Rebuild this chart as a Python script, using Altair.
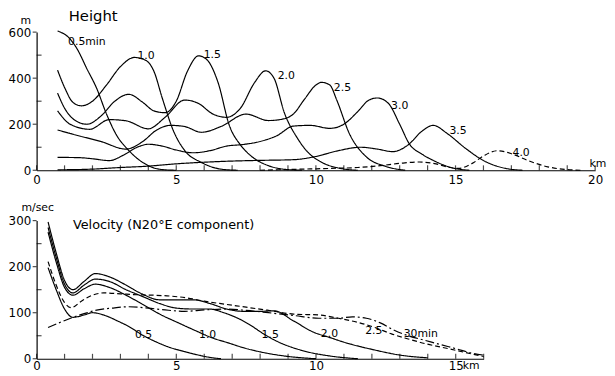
import altair as alt
import pandas as pd

# ---------------- Height panel (x in km, height in m) ----------------
H05_X = [0.75, 1.2, 1.45, 1.8, 2.15, 2.5, 2.85, 3.3, 3.8, 4.2, 4.6, 5.0]
H05_Y = [605, 570, 527, 441, 356, 245, 155, 86, 34, 10, 2, 0]

H10_X = [0.75, 1.0, 1.3, 1.6, 2.0, 2.5, 3.0, 3.5, 3.9, 4.2, 4.5, 4.9, 5.3, 5.9, 6.6, 7.2]
H10_Y = [435, 360, 295, 280, 300, 370, 450, 490, 478, 430, 313, 171, 86, 34, 5, 0]

H15_X = [0.75, 1.0, 1.4, 1.8, 2.3, 2.8, 3.3, 3.8, 4.2, 4.6, 5.0, 5.4, 5.8, 6.1, 6.5, 6.9, 7.3, 7.7, 8.3, 8.9, 9.5]
H15_Y = [335, 270, 215, 200, 235, 300, 330, 295, 258, 250, 300, 430, 497, 480, 380, 195, 110, 60, 20, 4, 0]

H20_X = [0.75, 1.2, 1.9, 2.6, 3.2, 4.0, 4.6, 5.3, 5.8, 6.3, 6.8, 7.3, 7.8, 8.2, 8.5, 8.87, 9.33, 9.7, 10.2, 10.8, 11.5]
H20_Y = [258, 200, 178, 220, 215, 180, 230, 305, 290, 245, 230, 270, 380, 432, 400, 250, 141, 80, 35, 10, 0]

H25_X = [0.75, 1.5, 2.3, 3.2, 3.8, 4.3, 4.8, 5.3, 5.9, 6.6, 7.5, 8.3, 8.8, 9.2, 9.6, 10.0, 10.2, 10.5, 10.75, 11.2, 11.8, 12.5, 13.2]
H25_Y = [175, 150, 125, 92, 125, 175, 195, 190, 165, 190, 244, 216, 222, 245, 310, 370, 382, 370, 304, 159, 59, 17, 0]

H30_X = [0.75, 1.5, 2.0, 2.6, 3.1, 3.6, 4.0, 4.5, 5.0, 5.6, 6.2, 6.8, 7.4, 8.0, 8.6, 9.2, 9.8, 10.5, 11.0, 11.5, 11.9, 12.2, 12.6, 13.0, 13.35, 13.8, 14.2, 14.9, 15.5]
H30_Y = [56, 55, 50, 42, 65, 100, 113, 105, 88, 76, 85, 105, 112, 125, 150, 192, 195, 182, 200, 255, 305, 314, 290, 200, 114, 70, 43, 10, 0]

H35_X = [0.75, 2.0, 3.0, 4.0, 5.0, 6.0, 7.0, 8.0, 9.2, 10.0, 10.8, 11.6, 12.2, 12.75, 13.3, 13.8, 14.2, 14.7, 15.35, 16.05, 16.76, 17.4]
H35_Y = [2, 5, 12, 18, 28, 35, 40, 43, 46, 60, 85, 100, 92, 81, 110, 170, 195, 160, 96, 39, 9, 0]

H40_X = [8.0, 9.2, 10.5, 11.5, 12.3, 13.0, 13.7, 14.3, 14.8, 15.1, 15.6, 16.0, 16.5, 17.0, 17.6, 18.3, 19.0, 19.5]
H40_Y = [0, 4, 8, 12, 20, 30, 36, 28, 12, 8, 30, 62, 85, 72, 42, 15, 3, 0]

H_LABEL_TEXT = ["0.5min", "1.0", "1.5", "2.0", "2.5", "3.0", "3.5", "4.0", "km", "m"]
H_LABEL_X = [1.8, 3.92, 6.29, 8.94, 10.95, 13.0, 15.09, 17.35, 20.1, -0.39]
H_LABEL_Y = [558, 498, 501, 408, 359, 279, 172, 74, 29, 648]

H_XLABELS = [0, 5, 10, 15, 20]
H_XTICKS = list(range(0, 21))
H_YLABELS = [0, 200, 400, 600]
H_YMINOR = [100, 300, 500]

# ---------------- Velocity panel (x in km, velocity in m/sec) ----------------
V05_X = [0.41, 0.7, 1.0, 1.3, 1.7, 2.0, 2.4, 2.9, 3.3, 3.8, 4.3, 4.7, 5.2, 5.65, 6.2, 6.6]
V05_Y = [198, 150, 108, 90, 95, 100, 95, 82, 70, 51, 36, 26, 17, 10, 3, 0]

V10_X = [0.41, 0.7, 1.0, 1.3, 1.7, 2.1, 2.6, 3.2, 3.8, 4.5, 5.0, 5.65, 6.3, 6.83, 7.4, 8.0, 9.0, 10.0]
V10_Y = [275, 210, 155, 138, 152, 162, 155, 138, 118, 94, 80, 62, 45, 35, 24, 15, 5, 0]

V15_X = [0.41, 0.7, 1.0, 1.3, 1.7, 2.1, 2.6, 3.2, 3.8, 4.4, 5.0, 5.6, 6.2, 6.7, 7.2, 7.6, 8.1, 8.6, 9.5, 10.5, 11.5]
V15_Y = [285, 220, 162, 143, 160, 173, 168, 150, 135, 120, 110, 108, 108, 100, 88, 75, 55, 38, 18, 6, 0]

V20_X = [0.41, 0.7, 1.0, 1.3, 1.7, 2.1, 2.6, 3.2, 3.8, 4.4, 5.0, 5.6, 6.2, 6.8, 7.4, 8.0, 8.5, 9.2, 9.9, 10.5, 11.0, 12.1, 13.0, 14.0]
V20_Y = [297, 230, 170, 150, 168, 185, 178, 160, 140, 128, 128, 128, 120, 108, 103, 103, 104, 82, 58, 46, 36, 19, 8, 2]

V25_X = [0.41, 0.7, 1.0, 1.24, 1.6, 2.0, 2.4, 3.0, 3.6, 4.2, 4.8, 5.4, 6.0, 6.8, 7.5, 8.3, 9.2, 10.1, 10.8, 11.5, 12.1, 12.7, 13.3, 13.9, 14.5, 15.1, 15.6, 16.0]
V25_Y = [211, 160, 122, 111, 125, 138, 143, 141, 139, 138, 136, 132, 125, 118, 112, 105, 97, 95, 88, 79, 68, 54, 43, 33, 25, 17, 10, 5]

V30_X = [0.41, 0.8, 1.3, 1.7, 2.1, 2.7, 3.3, 4.0, 4.6, 5.3, 6.0, 6.8, 7.5, 8.3, 9.2, 10.1, 10.8, 11.3, 11.8, 12.3, 12.8, 13.3, 13.9, 14.5, 15.0, 15.6, 16.0]
V30_Y = [68, 78, 90, 98, 105, 110, 113, 110, 106, 103, 106, 108, 105, 100, 94, 88, 88, 91, 88, 78, 62, 50, 40, 30, 22, 12, 8]

V_LABEL_TEXT = ["0.5", "1.0", "1.5", "2.0", "2.5", "30min", "km", "m/sec"]
V_LABEL_X = [3.83, 6.12, 8.36, 10.48, 12.07, 13.75, 15.55, 0.04]
V_LABEL_Y = [51, 51, 51, 54, 60, 54, -16, 327]

V_XLABELS = [0, 5, 10, 15]
V_XTICKS = list(range(0, 17))
V_YLABELS = [0, 100, 200, 300]
V_YMINOR = [50, 150, 250]

FONT = "DejaVu Sans"


def frame(series):
    rows = []
    for name, xs, ys, style in series:
        for x, y in zip(xs, ys):
            rows.append({"km": x, "val": y, "series": name, "style": style})
    return pd.DataFrame(rows)


h_df = frame([
    ("0.5", H05_X, H05_Y, "solid"), ("1.0", H10_X, H10_Y, "solid"),
    ("1.5", H15_X, H15_Y, "solid"), ("2.0", H20_X, H20_Y, "solid"),
    ("2.5", H25_X, H25_Y, "solid"), ("3.0", H30_X, H30_Y, "solid"),
    ("3.5", H35_X, H35_Y, "solid"), ("4.0", H40_X, H40_Y, "dash"),
])
v_df = frame([
    ("0.5", V05_X, V05_Y, "solid"), ("1.0", V10_X, V10_Y, "solid"),
    ("1.5", V15_X, V15_Y, "solid"), ("2.0", V20_X, V20_Y, "solid"),
    ("2.5", V25_X, V25_Y, "dash"), ("3.0", V30_X, V30_Y, "dashdot"),
])
h_lab = pd.DataFrame({"km": H_LABEL_X, "val": H_LABEL_Y, "text": H_LABEL_TEXT})
v_lab = pd.DataFrame({"km": V_LABEL_X, "val": V_LABEL_Y, "text": V_LABEL_TEXT})
h_title = pd.DataFrame({"km": [1.15], "val": [647], "text": ["Height"]})
v_title = pd.DataFrame({"km": [1.3], "val": [282], "text": ["Velocity (N20°E component)"]})

dash_scale = alt.Scale(domain=["solid", "dash", "dashdot"], range=[[1, 0], [5, 3], [9, 3, 2, 3]])


def panel(df, lab, title_df, xdom, ydom, w, h, xlabels, xticks, ylabels, yminor, title_size, xpad):
    xs = alt.Scale(domain=xdom, nice=False, zero=False)
    ys = alt.Scale(domain=ydom, nice=False, zero=False)
    lines = alt.Chart(df).mark_line(interpolate="monotone", color="black", strokeWidth=1.2).encode(
        x=alt.X("km:Q", scale=xs, axis=alt.Axis(values=xlabels, ticks=False, title=None, grid=False,
                                                  orient="bottom", labelPadding=xpad, labelFlush=False)),
        y=alt.Y("val:Q", scale=ys, axis=alt.Axis(values=ylabels, ticks=False, title=None, grid=False,
                                                  orient="left", labelPadding=6, labelFlush=False)),
        detail="series:N",
        strokeDash=alt.StrokeDash("style:N", scale=dash_scale, legend=None),
    )
    # axis tick marks: x ticks point up into the plot, labelled y ticks point out, minor y ticks in
    xt = pd.DataFrame({"km": xticks, "val": [ydom[0]] * len(xticks)})
    x_ticks = alt.Chart(xt).mark_tick(orient="vertical", size=5, thickness=1.2, color="black",
                                      yOffset=-2.5).encode(
        x=alt.X("km:Q", scale=xs, axis=None), y=alt.Y("val:Q", scale=ys, axis=None))
    ymj = pd.DataFrame({"km": [xdom[0]] * len(ylabels), "val": ylabels})
    y_major = alt.Chart(ymj).mark_tick(orient="horizontal", size=4, thickness=1.2, color="black",
                                       xOffset=-2).encode(
        x=alt.X("km:Q", scale=xs, axis=None), y=alt.Y("val:Q", scale=ys, axis=None))
    ymn = pd.DataFrame({"km": [xdom[0]] * len(yminor), "val": yminor})
    y_minor = alt.Chart(ymn).mark_tick(orient="horizontal", size=5, thickness=1.2, color="black",
                                       xOffset=2.5).encode(
        x=alt.X("km:Q", scale=xs, axis=None), y=alt.Y("val:Q", scale=ys, axis=None))
    labels = alt.Chart(lab).mark_text(font=FONT, fontSize=11, color="black", align="center",
                                      baseline="middle").encode(
        x=alt.X("km:Q", scale=xs, axis=None),
        y=alt.Y("val:Q", scale=ys, axis=None),
        text="text:N",
    )
    title = alt.Chart(title_df).mark_text(font=FONT, fontSize=title_size, color="black", align="left",
                                          baseline="alphabetic").encode(
        x=alt.X("km:Q", scale=xs, axis=None),
        y=alt.Y("val:Q", scale=ys, axis=None),
        text="text:N",
    )
    return alt.layer(lines, x_ticks, y_major, y_minor, labels, title).resolve_scale(
        x="independent", y="independent").resolve_axis(
        x="independent", y="independent").properties(width=w, height=h)


top = panel(h_df, h_lab, h_title, [0, 20], [0, 600], 566, 140,
            H_XLABELS, H_XTICKS, H_YLABELS, H_YMINOR, 15, 4)
bottom = panel(v_df, v_lab, v_title, [0, 16], [0, 300], 453, 140,
               V_XLABELS, V_XTICKS, V_YLABELS, V_YMINOR, 13, 2)

chart = alt.vconcat(top, bottom, spacing=17).properties(
    padding={"top": -1, "left": 0, "right": 0, "bottom": 0},
    background="white",
).configure_view(stroke=None).configure_axis(
    labelFont=FONT, labelFontSize=12, labelColor="black", domainColor="black", tickColor="black",
    domainWidth=1.2, tickWidth=1.2,
)

chart.save("out.html", embed_options={"renderer": "svg", "actions": False})
